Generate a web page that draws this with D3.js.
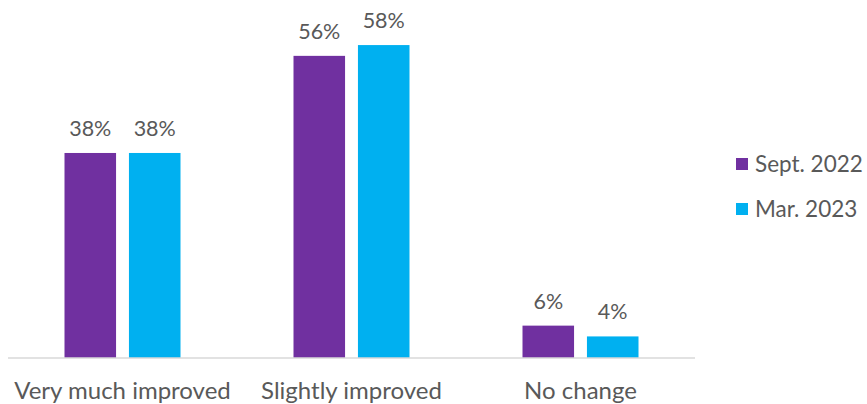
<!DOCTYPE html>
<html>
<head>
<meta charset="utf-8">
<script src="https://cdn.jsdelivr.net/npm/d3@7"></script>
<style>
  html, body { margin: 0; padding: 0; background: #fff; }
  svg { display: block; font-family: Lato, "Open Sans", sans-serif; }
</style>
</head>
<body>
<svg id="chart" width="867" height="404"></svg>
<script>
// Survey categories and the share of respondents per wave (percent)
const categories = ["Very much improved", "Slightly improved", "No change"];
const seriesNames = ["Sept. 2022", "Mar. 2023"];
const sept2022 = [38, 56, 6];
const mar2023 = [38, 58, 4];
const seriesColors = ["#7030A0", "#00B0F0"];

const series = [sept2022, mar2023];
const rows = categories.map((c, i) => ({
  category: c,
  values: series.map((s, k) => ({ key: seriesNames[k], value: s[i], color: seriesColors[k] }))
}));

const svg = d3.select("#chart");
const textColor = "#595959";

const plot = { left: 8, right: 695, top: 10, bottom: 358 };

const x0 = d3.scaleBand()
  .domain(categories)
  .range([plot.left, plot.right])
  .paddingInner(0)
  .paddingOuter(0);

const x1 = d3.scaleBand()
  .domain(seriesNames)
  .range([x0.bandwidth() / 2 - 58, x0.bandwidth() / 2 + 58])
  .paddingInner(0.2)
  .paddingOuter(0);

// 0–64.5 % maps onto the plot height
const y = d3.scaleLinear()
  .domain([0, 64.5])
  .range([plot.bottom, plot.top]);

const groups = svg.append("g")
  .selectAll("g")
  .data(rows)
  .join("g")
  .attr("transform", d => `translate(${x0(d.category)},0)`);

groups.selectAll("rect")
  .data(d => d.values)
  .join("rect")
  .attr("x", d => x1(d.key))
  .attr("y", d => y(d.value))
  .attr("width", x1.bandwidth())
  .attr("height", d => y(0) - y(d.value))
  .attr("fill", d => d.color);

groups.selectAll("text.value")
  .data(d => d.values)
  .join("text")
  .attr("class", "value")
  .attr("x", d => x1(d.key) + x1.bandwidth() / 2)
  .attr("y", d => y(d.value) - 17)
  .attr("text-anchor", "middle")
  .attr("fill", textColor)
  .style("font-size", "21.5px")
  .text(d => d.value + "%");

// Category axis along the baseline
const xAxis = svg.append("g")
  .attr("transform", `translate(0,${plot.bottom})`)
  .call(d3.axisBottom(x0).tickSize(0).tickPadding(24));
xAxis.select(".domain").attr("stroke", "#d9d9d9").attr("stroke-width", 1.5)
  .attr("d", `M${plot.left},0H${plot.right}`);
xAxis.selectAll("text")
  .attr("fill", textColor)
  .style("font-size", "24px")
  .style("font-family", "Lato, sans-serif");

// Legend
const legend = svg.append("g").attr("transform", "translate(736,158)");
const items = legend.selectAll("g")
  .data(seriesNames)
  .join("g")
  .attr("transform", (d, i) => `translate(0,${i * 45})`);
items.append("rect")
  .attr("width", 12).attr("height", 12)
  .attr("fill", (d, i) => seriesColors[i]);
items.append("text")
  .attr("x", 19).attr("y", 14)
  .attr("fill", textColor)
  .style("font-size", "22.5px")
  .text(d => d);
</script>
</body>
</html>
